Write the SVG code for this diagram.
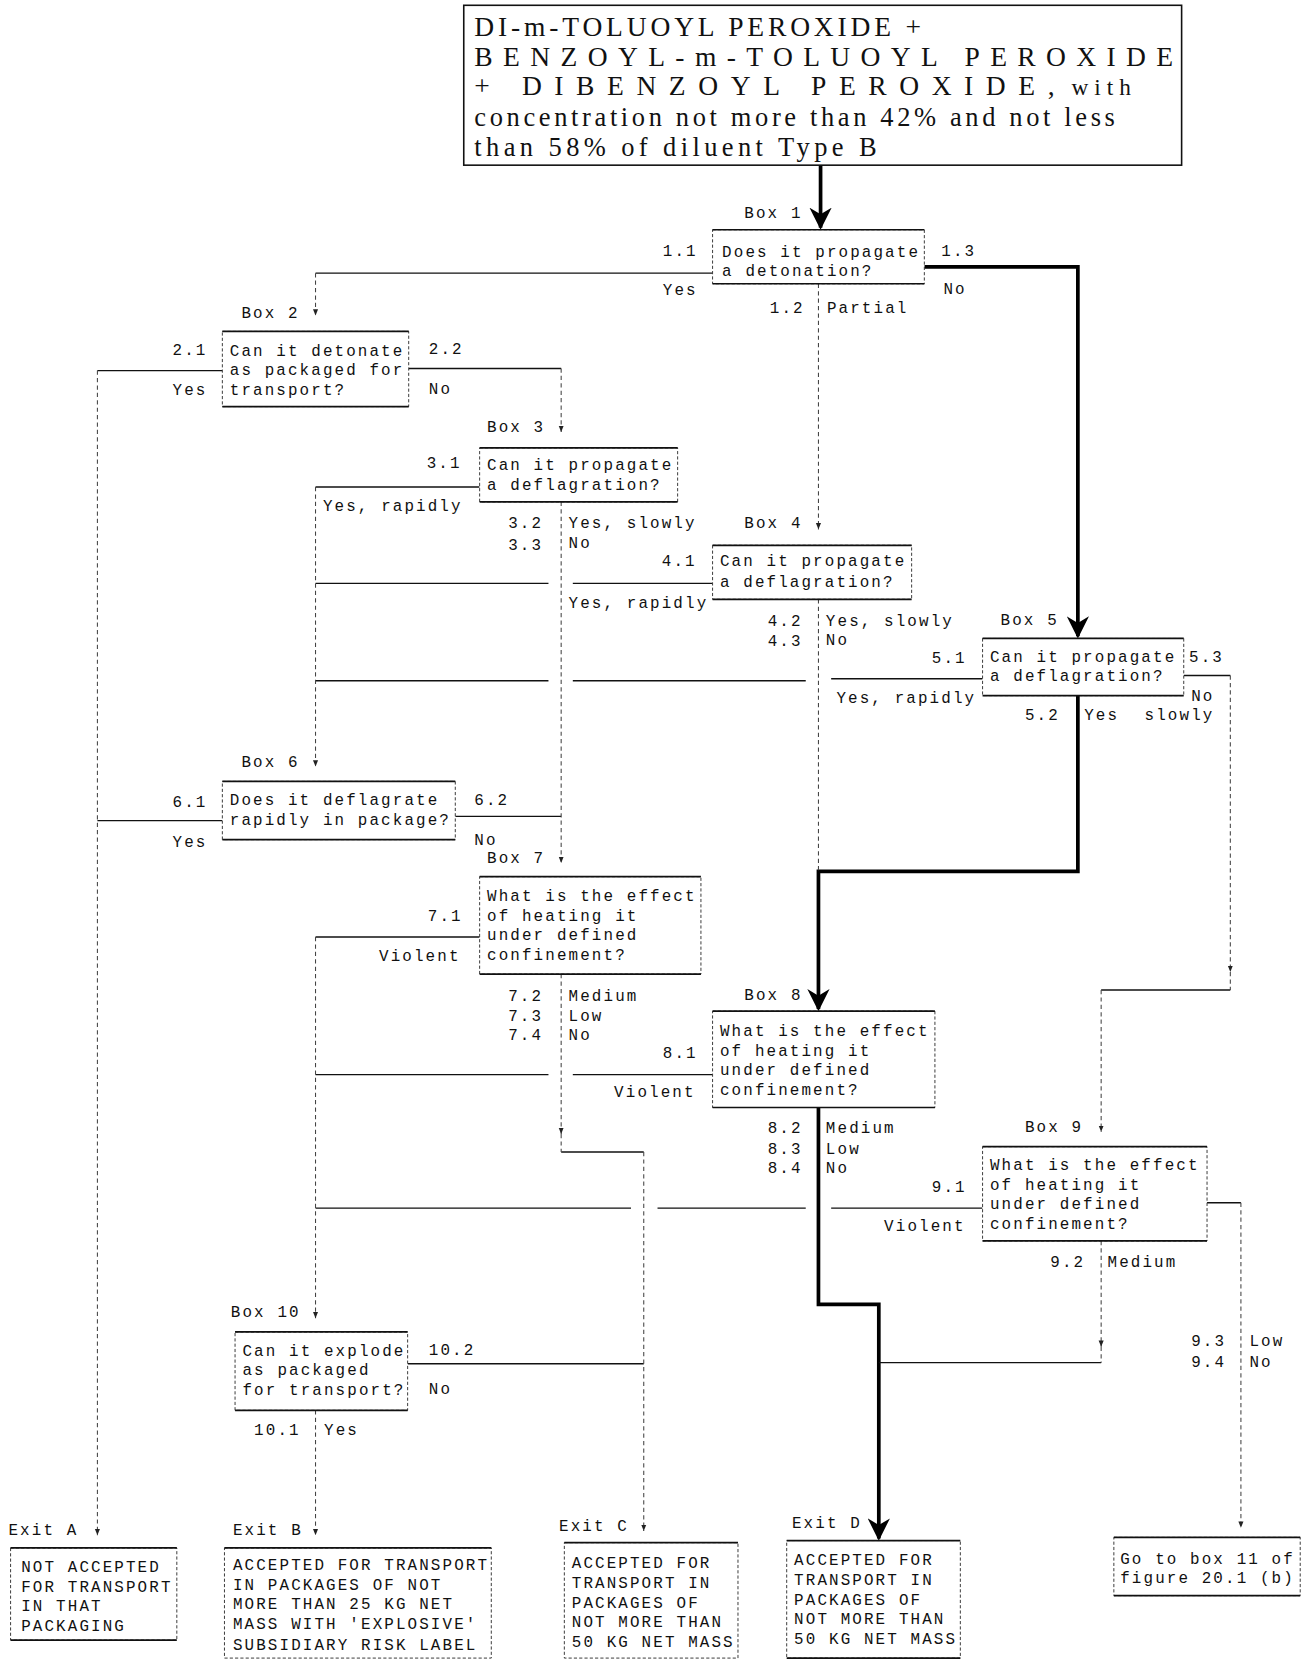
<svg xmlns="http://www.w3.org/2000/svg" width="1314" height="1660" viewBox="0 0 1314 1660">
<style>
.t{font-family:"Liberation Mono","DejaVu Sans Mono",monospace;font-size:15px;letter-spacing:2px;fill:#111}
.ti{font-family:"Liberation Serif","DejaVu Serif",serif;fill:#111}
.side{fill:#fff;stroke:#333;stroke-width:0.9;stroke-dasharray:3 2}
.edge{stroke:#111;stroke-width:1.6}
.h{fill:none;stroke:#111;stroke-width:1.3}
.d{fill:none;stroke:#444;stroke-width:1;stroke-dasharray:4 3}
.k{fill:none;stroke:#000;stroke-width:3.5;stroke-linejoin:miter}
</style>
<defs>
<marker id="big" viewBox="0 0 10 10" refX="9" refY="5" markerWidth="6" markerHeight="6" orient="auto"><path d="M0,0 L10,5 L0,10 L3,5 z" fill="#000"/></marker>
<marker id="sm" markerUnits="userSpaceOnUse" viewBox="0 0 10 10" refX="10" refY="5" markerWidth="6" markerHeight="6" orient="auto"><path d="M0,1 L10,5 L0,9 z" fill="#222"/></marker>
</defs>
<rect width="1314" height="1660" fill="#fff"/>
<g transform="scale(1.0588)">
<g id="connectors">
<path class="k" d="M775 156 V215" marker-end="url(#big)"/>
<path class="k" d="M873 252 H1018 V601" marker-end="url(#big)"/>
<path class="k" d="M1018 657 V823 H773 V953" marker-end="url(#big)"/>
<path class="k" d="M773 1046 V1232 H830 V1453" marker-end="url(#big)"/>
<path class="h" d="M673 258 H298"/>
<path class="h" d="M210 350 H92"/>
<path class="h" d="M386 348 H530"/>
<path class="h" d="M453 460 H298"/>
<path class="h" d="M673 551 H541 M518 551 H298"/>
<path class="h" d="M928 641 H785 M761 643 H541 M518 643 H298"/>
<path class="h" d="M1118 638 H1162"/>
<path class="h" d="M1040 935 H1162"/>
<path class="h" d="M210 775 H92"/>
<path class="h" d="M430 771 H530"/>
<path class="h" d="M453 885 H298"/>
<path class="h" d="M530 1088 H608"/>
<path class="h" d="M673 1015 H541 M518 1015 H298"/>
<path class="h" d="M928 1141 H785 M761 1141 H621 M596 1141 H298"/>
<path class="h" d="M1140 1136 H1172"/>
<path class="h" d="M1040 1287 H830"/>
<path class="h" d="M385 1288 H608"/>
<path class="d" d="M298 258 V298" marker-end="url(#sm)"/>
<path class="d" d="M773 268 V500" marker-end="url(#sm)"/>
<path class="d" d="M92 350 V1450" marker-end="url(#sm)"/>
<path class="d" d="M530 348 V408" marker-end="url(#sm)"/>
<path class="d" d="M298 460 V724" marker-end="url(#sm)"/>
<path class="d" d="M530 474 V815" marker-end="url(#sm)"/>
<path class="d" d="M773 566 V823"/>
<path class="d" d="M1162 638 V918" marker-end="url(#sm)"/>
<path class="d" d="M1162 918 V935"/>
<path class="d" d="M1040 935 V1069" marker-end="url(#sm)"/>
<path class="d" d="M298 885 V1245" marker-end="url(#sm)"/>
<path class="d" d="M530 920 V1071" marker-end="url(#sm)"/>
<path class="d" d="M530 1071 V1088"/>
<path class="d" d="M608 1088 V1446" marker-end="url(#sm)"/>
<path class="d" d="M1040 1172 V1272" marker-end="url(#sm)"/>
<path class="d" d="M1040 1272 V1287"/>
<path class="d" d="M1172 1136 V1443" marker-end="url(#sm)"/>
<path class="d" d="M298 1332 V1450" marker-end="url(#sm)"/>
</g>
<g id="title">
<rect x="438" y="5" width="678" height="151" fill="#fff" stroke="#111" stroke-width="1.5"/>
<text class="ti" x="448" y="34" font-size="26" textLength="422" lengthAdjust="spacing">DI-m-TOLUOYL PEROXIDE +</text>
<text class="ti" x="448" y="62" font-size="26" textLength="660" lengthAdjust="spacing">BENZOYL-m-TOLUOYL PEROXIDE</text>
<text class="ti" x="448" y="90" font-size="26" textLength="548" lengthAdjust="spacing">+ DIBENZOYL PEROXIDE,</text>
<text class="ti" x="1012" y="90" font-size="22" textLength="56" lengthAdjust="spacing">with</text>
<text class="ti" x="448" y="119" font-size="25" textLength="605" lengthAdjust="spacing">concentration not more than 42% and not less</text>
<text class="ti" x="448" y="147" font-size="25" textLength="380" lengthAdjust="spacing">than 58% of diluent Type B</text>
</g>
<g id="box1">
<rect class="side" x="673" y="217" width="200" height="51"/>
<path class="edge" d="M673 217 H873 M673 268 H873"/>
<text class="t" x="703" y="206">Box 1</text>
<text class="t" x="682" y="243">Does it propagate</text>
<text class="t" x="682" y="261">a detonation?</text>
<text class="t" x="626" y="242">1.1</text><text class="t" x="626" y="279">Yes</text>
<text class="t" x="889" y="242">1.3</text><text class="t" x="891" y="278">No</text>
<text class="t" x="727" y="296">1.2</text><text class="t" x="781" y="296">Partial</text>
</g>
<g id="box2">
<rect class="side" x="210" y="313" width="176" height="71"/>
<path class="edge" d="M210 313 H386 M210 384 H386"/>
<text class="t" x="228" y="300">Box 2</text>
<text class="t" x="217" y="336">Can it detonate</text>
<text class="t" x="217" y="354">as packaged for</text>
<text class="t" x="217" y="373">transport?</text>
<text class="t" x="163" y="335">2.1</text><text class="t" x="163" y="373">Yes</text>
<text class="t" x="405" y="334">2.2</text><text class="t" x="405" y="372">No</text>
</g>
<g id="box3">
<rect class="side" x="453" y="423" width="187" height="51"/>
<path class="edge" d="M453 423 H640 M453 474 H640"/>
<text class="t" x="460" y="408">Box 3</text>
<text class="t" x="460" y="444">Can it propagate</text>
<text class="t" x="460" y="463">a deflagration?</text>
<text class="t" x="403" y="442">3.1</text><text class="t" x="305" y="483">Yes, rapidly</text>
<text class="t" x="480" y="499">3.2</text><text class="t" x="480" y="519">3.3</text>
<text class="t" x="537" y="499">Yes, slowly</text><text class="t" x="537" y="518">No</text>
</g>
<g id="box4">
<rect class="side" x="673" y="515" width="188" height="51"/>
<path class="edge" d="M673 515 H861 M673 566 H861"/>
<text class="t" x="703" y="499">Box 4</text>
<text class="t" x="680" y="535">Can it propagate</text>
<text class="t" x="680" y="554">a deflagration?</text>
<text class="t" x="625" y="535">4.1</text><text class="t" x="537" y="574">Yes, rapidly</text>
<text class="t" x="725" y="591">4.2</text><text class="t" x="725" y="610">4.3</text>
<text class="t" x="780" y="591">Yes, slowly</text><text class="t" x="780" y="609">No</text>
</g>
<g id="box5">
<rect class="side" x="928" y="603" width="190" height="54"/>
<path class="edge" d="M928 603 H1118 M928 657 H1118"/>
<text class="t" x="945" y="590">Box 5</text>
<text class="t" x="935" y="625">Can it propagate</text>
<text class="t" x="935" y="643">a deflagration?</text>
<text class="t" x="880" y="626">5.1</text><text class="t" x="790" y="664">Yes, rapidly</text>
<text class="t" x="1123" y="625">5.3</text><text class="t" x="1125" y="662">No</text>
<text class="t" x="968" y="680">5.2</text><text class="t" x="1024" y="680">Yes</text><text class="t" x="1081" y="680">slowly</text>
</g>
<g id="box6">
<rect class="side" x="210" y="738" width="220" height="55"/>
<path class="edge" d="M210 738 H430 M210 793 H430"/>
<text class="t" x="228" y="724">Box 6</text>
<text class="t" x="217" y="760">Does it deflagrate</text>
<text class="t" x="217" y="779">rapidly in package?</text>
<text class="t" x="163" y="762">6.1</text><text class="t" x="163" y="800">Yes</text>
<text class="t" x="448" y="760">6.2</text><text class="t" x="448" y="798">No</text>
</g>
<g id="box7">
<rect class="side" x="453" y="828" width="209" height="92"/>
<path class="edge" d="M453 828 H662 M453 920 H662"/>
<text class="t" x="460" y="815">Box 7</text>
<text class="t" x="460" y="851">What is the effect</text>
<text class="t" x="460" y="870">of heating it</text>
<text class="t" x="460" y="888">under defined</text>
<text class="t" x="460" y="907">confinement?</text>
<text class="t" x="404" y="870">7.1</text><text class="t" x="358" y="908">Violent</text>
<text class="t" x="480" y="945">7.2</text><text class="t" x="480" y="964">7.3</text><text class="t" x="480" y="982">7.4</text>
<text class="t" x="537" y="945">Medium</text><text class="t" x="537" y="964">Low</text><text class="t" x="537" y="982">No</text>
</g>
<g id="box8">
<rect class="side" x="673" y="955" width="210" height="91"/>
<path class="edge" d="M673 955 H883 M673 1046 H883"/>
<text class="t" x="703" y="944">Box 8</text>
<text class="t" x="680" y="978">What is the effect</text>
<text class="t" x="680" y="997">of heating it</text>
<text class="t" x="680" y="1015">under defined</text>
<text class="t" x="680" y="1034">confinement?</text>
<text class="t" x="626" y="999">8.1</text><text class="t" x="580" y="1036">Violent</text>
<text class="t" x="725" y="1070">8.2</text><text class="t" x="725" y="1090">8.3</text><text class="t" x="725" y="1108">8.4</text>
<text class="t" x="780" y="1070">Medium</text><text class="t" x="780" y="1090">Low</text><text class="t" x="780" y="1108">No</text>
</g>
<g id="box9">
<rect class="side" x="928" y="1083" width="212" height="89"/>
<path class="edge" d="M928 1083 H1140 M928 1172 H1140"/>
<text class="t" x="968" y="1069">Box 9</text>
<text class="t" x="935" y="1105">What is the effect</text>
<text class="t" x="935" y="1124">of heating it</text>
<text class="t" x="935" y="1142">under defined</text>
<text class="t" x="935" y="1161">confinement?</text>
<text class="t" x="880" y="1126">9.1</text><text class="t" x="835" y="1163">Violent</text>
<text class="t" x="992" y="1197">9.2</text><text class="t" x="1046" y="1197">Medium</text>
<text class="t" x="1125" y="1271">9.3</text><text class="t" x="1125" y="1291">9.4</text>
<text class="t" x="1180" y="1271">Low</text><text class="t" x="1180" y="1291">No</text>
</g>
<g id="box10">
<rect class="side" x="222" y="1258" width="163" height="74"/>
<path class="edge" d="M222 1258 H385 M222 1332 H385"/>
<text class="t" x="218" y="1244">Box 10</text>
<text class="t" x="229" y="1281">Can it explode</text>
<text class="t" x="229" y="1299">as packaged</text>
<text class="t" x="229" y="1318">for transport?</text>
<text class="t" x="405" y="1280">10.2</text><text class="t" x="405" y="1317">No</text>
<text class="t" x="240" y="1355">10.1</text><text class="t" x="306" y="1355">Yes</text>
</g>
<g id="exitA">
<rect class="side" x="10" y="1462" width="157" height="87"/>
<path class="edge" d="M10 1462 H167 M10 1549 H167" stroke-width="2.2"/>
<text class="t" x="8" y="1450">Exit A</text>
<text class="t" x="20" y="1485">NOT ACCEPTED</text>
<text class="t" x="20" y="1504">FOR TRANSPORT</text>
<text class="t" x="20" y="1522">IN THAT</text>
<text class="t" x="20" y="1540">PACKAGING</text>
</g>
<g id="exitB">
<rect class="side" x="212" y="1462" width="252" height="104"/>
<path class="edge" d="M212 1462 H464" stroke-width="2.2"/>
<text class="t" x="220" y="1450">Exit B</text>
<text class="t" x="220" y="1483">ACCEPTED FOR TRANSPORT</text>
<text class="t" x="220" y="1502">IN PACKAGES OF NOT</text>
<text class="t" x="220" y="1520">MORE THAN 25 KG NET</text>
<text class="t" x="220" y="1539">MASS WITH 'EXPLOSIVE'</text>
<text class="t" x="220" y="1558">SUBSIDIARY RISK LABEL</text>
</g>
<g id="exitC">
<rect class="side" x="533" y="1457" width="164" height="109"/>
<path class="edge" d="M533 1457 H697" stroke-width="2.2"/>
<text class="t" x="528" y="1446">Exit C</text>
<text class="t" x="540" y="1481">ACCEPTED FOR</text>
<text class="t" x="540" y="1500">TRANSPORT IN</text>
<text class="t" x="540" y="1519">PACKAGES OF</text>
<text class="t" x="540" y="1537">NOT MORE THAN</text>
<text class="t" x="540" y="1556">50 KG NET MASS</text>
</g>
<g id="exitD">
<rect class="side" x="743" y="1455" width="164" height="111"/>
<path class="edge" d="M743 1455 H907 M743 1566 H907" stroke-width="2.2"/>
<text class="t" x="748" y="1443">Exit D</text>
<text class="t" x="750" y="1478">ACCEPTED FOR</text>
<text class="t" x="750" y="1497">TRANSPORT IN</text>
<text class="t" x="750" y="1516">PACKAGES OF</text>
<text class="t" x="750" y="1534">NOT MORE THAN</text>
<text class="t" x="750" y="1553">50 KG NET MASS</text>
</g>
<g id="goto">
<rect class="side" x="1052" y="1452" width="176" height="55"/>
<path class="edge" d="M1052 1452 H1228 M1052 1507 H1228" stroke-width="2.2"/>
<text class="t" x="1058" y="1477">Go to box 11 of</text>
<text class="t" x="1058" y="1495">figure 20.1 (b)</text>
</g>
</g>
</svg>
